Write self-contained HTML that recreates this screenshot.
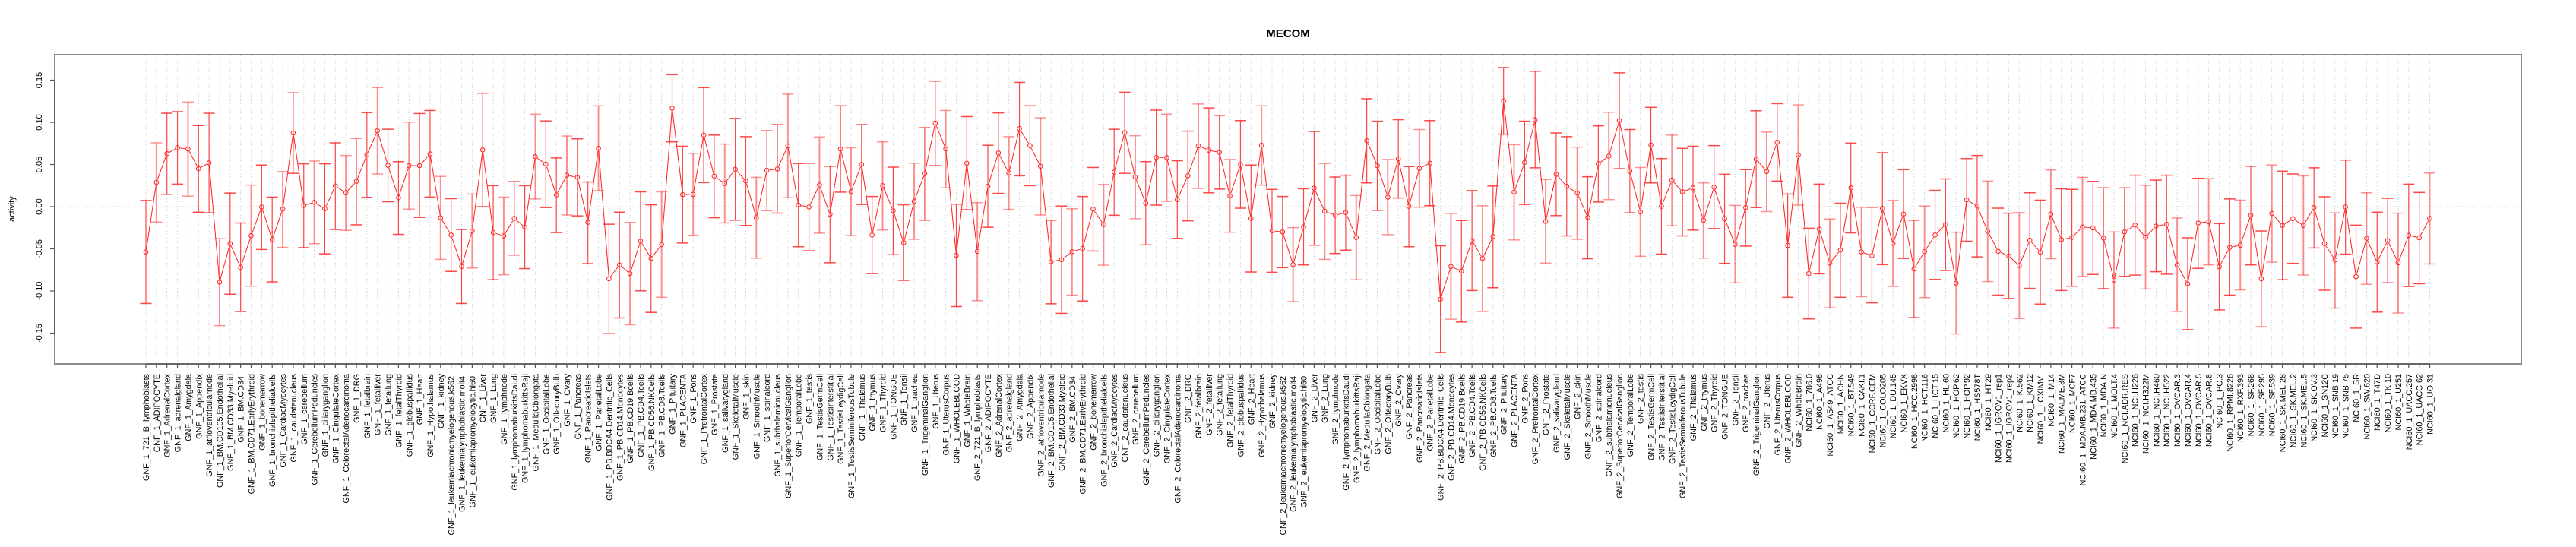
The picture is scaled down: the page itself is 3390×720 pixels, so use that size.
<!DOCTYPE html>
<html><head><meta charset="utf-8"><style>
html,body{margin:0;padding:0;background:#fff;}
svg{display:block;font-family:"Liberation Sans",sans-serif;}
</style></head><body>
<svg id="s" width="3390" height="720" xmlns="http://www.w3.org/2000/svg">
<rect width="3390" height="720" fill="#fff"/>
<text x="1695" y="49" font-size="15" font-weight="bold" text-anchor="middle">MECOM</text>
<text transform="translate(19,275) rotate(-90)" font-size="11" text-anchor="middle">activity</text>
</svg>
<script>
var s=document.getElementById('s');var NS='http://www.w3.org/2000/svg';
function el(t,a,txt){var e=document.createElementNS(NS,t);for(var k in a)e.setAttribute(k,a[k]);if(txt!=null)e.textContent=txt;s.appendChild(e);return e;}
var suf=["721_B_lymphoblasts","ADIPOCYTE","AdrenalCortex","adrenalgland","Amygdala","Appendix","atrioventricularnode","BM.CD105.Endothelial","BM.CD33.Myeloid","BM.CD34.","BM.CD71.EarlyErythroid","bonemarrow","bronchialepithelialcells","CardiacMyocytes","caudatenucleus","cerebellum","CerebellumPeduncles","ciliaryganglion","CingulateCortex","ColorectalAdenocarcinoma","DRG","fetalbrain","fetalliver","fetallung","fetalThyroid","globuspallidus","Heart","Hypothalamus","kidney","leukemiachronicmyelogenous.k562.","leukemialymphoblastic.molt4.","leukemiapromyelocytic.hl60.","Liver","Lung","lymphnode","lymphomaburkittsDaudi","lymphomaburkittsRaji","MedullaOblongata","OccipitalLobe","OlfactoryBulb","Ovary","Pancreas","PancreaticIslets","ParietalLobe","PB.BDCA4.Dentritic_Cells","PB.CD14.Monocytes","PB.CD19.Bcells","PB.CD4.Tcells","PB.CD56.NKCells","PB.CD8.Tcells","Pituitary","PLACENTA","Pons","PrefrontalCortex","Prostate","salivarygland","SkeletalMuscle","skin","SmoothMuscle","spinalcord","subthalamicnucleus","SuperiorCervicalGanglion","TemporalLobe","testis","TestisGermCell","TestisInterstitial","TestisLeydigCell","TestisSeminiferousTubule","Thalamus","thymus","Thyroid","TONGUE","Tonsil","trachea","TrigeminalGanglion","Uterus","UterusCorpus","WHOLEBLOOD","WholeBrain"];
var nci=["786.0","A498","A549_ATCC","ACHN","BT.549","CAKI.1","CCRF.CEM","COLO205","DU.145","EKVX","HCC.2998","HCT.116","HCT.15","HL.60","HOP.62","HOP.92","HS578T","HT29","IGROV1_rep1","IGROV1_rep2","K.562","KM12","LOXIMVI","M14","MALME.3M","MCF7","MDA.MB.231_ATCC","MDA.MB.435","MDA.N","MOLT.4","NCI.ADR.RES","NCI.H226","NCI.H322M","NCI.H460","NCI.H522","OVCAR.3","OVCAR.4","OVCAR.5","OVCAR.8","PC.3","RPMI.8226","RXF.393","SF.268","SF.295","SF.539","SK.MEL.28","SK.MEL.2","SK.MEL.5","SK.OV.3","SN12C","SNB.19","SNB.75","SR","SW.620","T47D","TK.10","U251","UACC.257","UACC.62","UO.31"];
var labels=[];suf.forEach(function(x){labels.push("GNF_1_"+x);});suf.forEach(function(x){labels.push("GNF_2_"+x);});nci.forEach(function(x){labels.push("NCI60_1_"+x);});
var D=[[615,448,782],[389,261,518],[296,165,428],[277,160,395],[281,129,434],[345,205,486],[326,165,488],[713,572,854],[588,424,752],[665,521,808],[562,398,726],[469,333,607],[575,437,712],[476,354,600],[229,99,360],[464,329,601],[454,320,588],[475,329,621],[401,261,542],[423,302,545],[386,246,527],[300,163,438],[222,82,362],[334,217,452],[439,322,558],[335,194,476],[335,166,503],[297,156,437],[504,370,639],[560,442,678],[662,542,782],[547,427,667],[284,100,468],[552,400,705],[563,437,689],[506,387,625],
[535,400,669],[306,168,443],[330,190,471],[430,310,552],[366,239,495],[373,248,498],[519,388,653],[279,141,416],[702,525,880],[657,486,829],[685,519,851],[580,420,741],[636,462,811],[591,420,762],[149,40,258],[429,272,586],[428,295,561],[236,82,390],[369,236,504],[393,265,521],[347,182,512],[385,241,529],[504,373,635],[350,222,480],[346,202,489],[271,103,439],[463,328,598],[469,327,611],[398,242,554],[493,337,650],[281,141,421],[419,277,562],[331,202,461],[560,435,685],[400,258,544],[481,340,624],[585,462,707],
[451,327,574],[361,212,512],[197,61,335],[281,156,407],[626,460,792],[327,176,478],[613,455,773],[402,269,535],[294,164,425],[359,241,477],[215,65,368],[270,141,400],[337,180,495],[647,512,783],[640,466,814],[614,475,755],[604,435,774],[476,341,612],[526,396,658],[356,217,496],[228,97,360],[372,238,507],[457,322,592],[308,155,463],[309,168,451],[445,319,571],[368,223,514],[271,135,409],[285,148,423],[292,172,411],[433,315,551],[331,189,473],[506,333,680],[269,141,398],[546,412,681],[550,435,666],
[656,536,776],[534,410,657],[408,224,593],[483,328,639],[496,372,620],[487,366,609],[568,432,705],[254,118,391],[335,191,480],[437,315,559],[313,186,440],[467,338,598],[344,218,470],[327,189,465],[768,595,941],[662,490,833],[677,513,842],[578,416,740],[636,465,808],[565,401,731],[125,17,233],[421,267,576],[325,191,461],[186,29,342],[516,380,651],[363,229,497],[402,241,563],[424,275,574],[503,371,637],[329,206,453],[304,162,445],[189,34,345],[353,218,488],[485,341,629],[268,146,391],[467,312,622],[382,236,530],
[420,279,563],[407,272,544],[512,391,635],[405,270,539],[507,363,652],[590,464,715],[471,348,596],[314,157,471],[354,226,484],[259,134,385],[594,427,762],[300,138,463],[685,538,832],[541,395,686],[651,508,796],[609,457,762],[407,262,553],[615,470,760],[627,470,780],[474,293,656],[587,448,727],[492,348,636],[670,512,828],[614,466,763],[560,415,704],[526,378,675],[716,551,881],[446,312,580],[466,302,631],[548,385,711],[613,473,755],[628,489,766],[659,487,831],[577,423,733],[616,447,784],[492,349,637],
[575,410,740],[568,412,726],[534,373,694],[537,386,688],[570,407,734],[706,550,862],[550,407,694],[528,366,690],[567,399,735],[531,382,679],[525,366,687],[657,505,808],[718,569,867],[521,376,668],[517,377,657],[663,523,803],[600,443,755],[593,447,738],[496,337,657],[702,547,858],[490,333,648],[529,353,705],[507,362,652],[529,368,690],[471,342,602],[588,436,739],[641,488,797],[469,317,622],[695,528,862],[571,423,720],[648,486,810],[578,441,715],[650,489,813],[561,395,727],[569,422,718],[506,359,654]];
function Y(z){return 272+(z-468)/2.464;}
var N=D.length, dx=(3197.5-192)/(N-1);
function X(i){return 192+i*dx;}
// grid
for(var i=0;i<N;i++){var x=X(i).toFixed(1);el('line',{x1:x,x2:x,y1:73,y2:478,stroke:'#cfcfcf','stroke-width':1,'stroke-dasharray':'1,2'});}
el('line',{x1:73,x2:3317,y1:272,y2:272,stroke:'#cfcfcf','stroke-width':1,'stroke-dasharray':'1,2'});
// error bars
for(var i=0;i<N;i++){var x=X(i),t=Y(D[i][1]),b=Y(D[i][2]);var c=(i%3==1)?'rgba(255,60,60,0.55)':'rgba(255,40,40,0.85)';var w=(i%3==1)?2:1.2;
el('line',{x1:x,x2:x,y1:t,y2:b,stroke:c,'stroke-width':w});
el('line',{x1:x-7.5,x2:x+7.5,y1:t,y2:t,stroke:c,'stroke-width':1.5});
el('line',{x1:x-7.5,x2:x+7.5,y1:b,y2:b,stroke:c,'stroke-width':1.5});}
// lines
var r=2.8;
for(var i=0;i<N-1;i++){var x1=X(i),y1=Y(D[i][0]),x2=X(i+1),y2=Y(D[i+1][0]);var L=Math.hypot(x2-x1,y2-y1);if(L<2*r+2)continue;var ux=(x2-x1)/L,uy=(y2-y1)/L;
el('line',{x1:x1+ux*(r+0.8),y1:y1+uy*(r+0.8),x2:x2-ux*(r+0.8),y2:y2-uy*(r+0.8),stroke:'#ff2020','stroke-width':1});}
for(var i=0;i<N;i++){el('circle',{cx:X(i),cy:Y(D[i][0]),r:r,fill:'none',stroke:'#ff2020','stroke-width':1});}
// box
el('rect',{x:72,y:72,width:3246,height:407,fill:'none',stroke:'#8a8a8a','stroke-width':2});
// y axis
el('line',{x1:72,x2:72,y1:272+0.15*1110,y2:272-0.15*1110,stroke:'#555','stroke-width':1.5});
[-0.15,-0.1,-0.05,0,0.05,0.1,0.15].forEach(function(v){var y=272-v*1110;el('line',{x1:66,x2:72,y1:y,y2:y,stroke:'#555','stroke-width':1.2});
var t=(v==0)?'0.00':v.toFixed(2);el('text',{transform:'translate(55,'+y+') rotate(-90)','font-size':11,'text-anchor':'middle'},t);});
// x axis
el('line',{x1:X(0),x2:X(N-1),y1:479,y2:479,stroke:'#555','stroke-width':1.2});
for(var i=0;i<N;i++){var x=X(i);el('line',{x1:x,x2:x,y1:479,y2:485,stroke:'#555','stroke-width':1.2});
el('text',{transform:'translate('+(x+4).toFixed(1)+',492) rotate(-90)','font-size':10.8,'text-anchor':'end'},labels[i]);}
</script>
</body></html>
